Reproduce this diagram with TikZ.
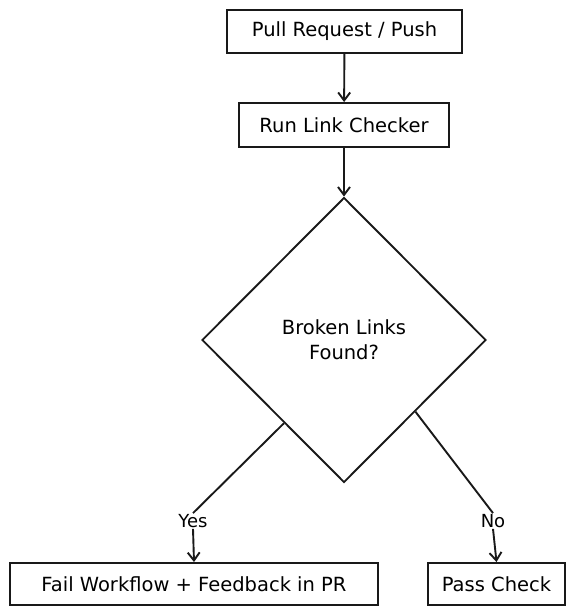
\documentclass[tikz,border=0pt]{standalone}
\usepackage{fontspec}
\setmainfont{DejaVu Sans}
\usetikzlibrary{shapes.geometric,arrows.meta,calc}
\begin{document}
\begin{tikzpicture}[x=1pt,y=-1pt,
  box/.style={draw=black!90,line width=1.9pt,inner sep=0pt,font=\fontsize{19.5}{25}\selectfont},
  conn/.style={draw=black!90,line width=1.9pt},
  arr/.style={conn,-{Straight Barb[length=8pt,width=12pt,line width=1.9pt]}},
  lbl/.style={font=\fontsize{18}{22}\selectfont,inner sep=1pt}]
\useasboundingbox (0,0) rectangle (572,615);
\node[box,minimum width=235,minimum height=43] (pull) at (344.5,31.5) {Pull Request / Push};
\node[box,minimum width=210,minimum height=44] (run) at (344,125) {Run Link Checker};
\node[box,shape=diamond,minimum width=284,minimum height=285,aspect=1,align=center] (dec) at (344,340) {Broken Links\\Found?};
\node[box,minimum width=368,minimum height=42] (fail) at (194,584) {Fail Workflow + Feedback in PR};
\node[box,minimum width=137,minimum height=42] (pass) at (496.5,584) {Pass Check};
\node[lbl] (yes) at (193,521) {Yes};
\node[lbl] (no) at (493,521) {No};
\coordinate (cy) at ($(dec.west)!0.58!(dec.south)$);
\coordinate (cn) at ($(dec.east)!0.50!(dec.south)$);
\draw[arr] (pull) -- (run);
\draw[arr] (run) -- (dec);
\draw[conn] (cy) -- (yes.north);
\draw[arr] (yes.south) -- (fail.north);
\draw[conn] (cn) -- (no.north);
\draw[arr] (no.south) -- (pass.north);
\end{tikzpicture}
\end{document}
